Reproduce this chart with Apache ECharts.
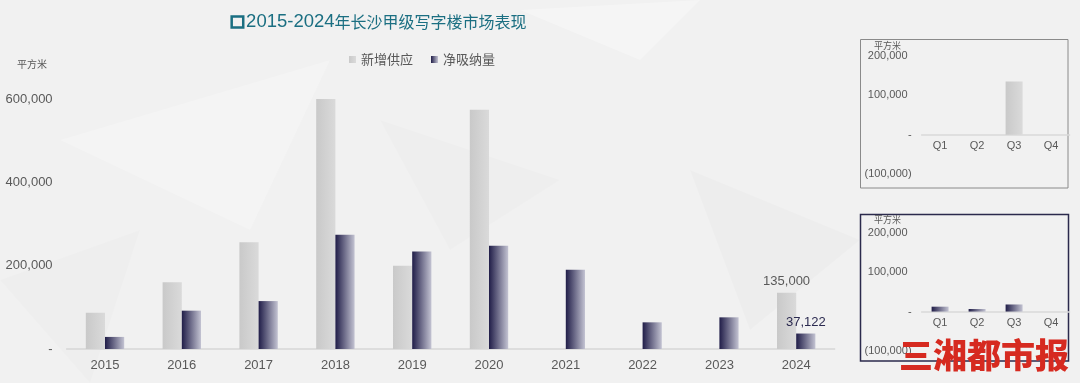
<!DOCTYPE html>
<html>
<head>
<meta charset="utf-8">
<script src="https://cdn.jsdelivr.net/npm/echarts@6/dist/echarts.min.js"></script>
<style>html,body{margin:0;padding:0;background:#f1f1f1}#c{width:1080px;height:383px}</style>
</head>
<body>
<div id="c"></div>
<script>
// ---- data ----
const years = ['2015','2016','2017','2018','2019','2020','2021','2022','2023','2024'];
const supply = [87000,160000,256000,600000,200000,574000,null,null,null,135000];
const absorption = [29000,92000,115000,274000,234000,248000,190000,64000,76000,37122];
const quarters = ['Q1','Q2','Q3','Q4'];
const supplyQ2024 = [null,null,135000,null];
const absorptionQ2024 = [12500,6500,18122,null];
const seriesNames = ['新增供应','净吸纳量'];
const mainTicks = {min:0,max:600000,interval:200000};
const insetTicks = {min:-100000,max:200000,interval:100000};
const titleYears = '2015-2024';
const titleRest = '年长沙甲级写字楼市场表现';
const unitText = '平方米';
const logoText = '三湘都市报';

const FONT = '"Liberation Sans", Arial, "Noto Sans CJK SC", sans-serif';
const CJK = '"Noto Sans CJK SC", "Liberation Sans", sans-serif';
const grayGrad = {type:'linear',x:0,y:0,x2:1,y2:0,colorStops:[{offset:0,color:'#c9c9c9'},{offset:1,color:'#dadada'}]};
const navyGrad = {type:'linear',x:0,y:0,x2:1,y2:0,colorStops:[{offset:0,color:'#201d48'},{offset:1,color:'#c3c3d2'}]};
const TEAL = '#1b6f82';

function fmt(v){
  if (v === 0) return '-';
  const s = Math.abs(v).toLocaleString('en-US');
  return v < 0 ? '(' + s + ')' : '{p|' + s + '}';
}

const lastLabel = (arr, color) => arr.map((v,i)=> i===arr.length-1 ? {value:v,label:{show:true,position:'top',distance:5,color:color,fontSize:13,fontFamily:FONT,formatter:p=>p.value.toLocaleString('en-US')}} : v);

const insetX = (grid, off) => ({type:'category',gridIndex:grid,data:quarters,offset:off,axisTick:{show:false},
  axisLine:{onZero:false,lineStyle:{color:'#d9d9d9',width:1.5}},
  axisLabel:{color:'#595959',fontSize:11,fontFamily:FONT,margin:6}});
const insetY = (grid) => ({type:'value',gridIndex:grid,min:insetTicks.min,max:insetTicks.max,interval:insetTicks.interval,splitLine:{show:false},axisLine:{show:false},axisTick:{show:false},
  axisLabel:{color:'#595959',fontSize:11,fontFamily:FONT,margin:10,formatter:fmt,rich:{p:{fontSize:11,color:'#595959',fontFamily:FONT,padding:[0,4,0,0]}}}});

const chart = echarts.init(document.getElementById('c'));
chart.setOption({
  backgroundColor:'#f1f1f1',
  animation:false,
  title:{
    text:'{b|□}{d|'+titleYears+'}{c|'+titleRest+'}',
    left:225, top:8,
    textStyle:{fontSize:18,color:TEAL,fontWeight:'normal',fontFamily:FONT,
      rich:{
        b:{fontSize:16,color:TEAL,fontWeight:'bold',fontFamily:'DejaVu Sans',textBorderColor:TEAL,textBorderWidth:1.6,padding:[0,1,0,0]},
        d:{fontSize:18.5,color:TEAL,fontFamily:FONT},
        c:{fontSize:16,color:TEAL,fontFamily:CJK}
      }}
  },
  legend:{
    data:seriesNames, left:344, top:48, itemWidth:7, itemHeight:7, itemGap:18, icon:'rect',
    textStyle:{color:'#595959',fontSize:13,fontFamily:CJK}
  },
  grid:[
    {left:66.6, right:245.4, top:99, bottom:34},
    {left:921.6, right:10.4, top:56, bottom:209},
    {left:921.6, right:10.4, top:233.3, bottom:32.3}
  ],
  xAxis:[
    {type:'category',gridIndex:0,data:years,axisTick:{show:false},axisLine:{lineStyle:{color:'#d6d6d6',width:1.5}},
     axisLabel:{color:'#595959',fontSize:13,fontFamily:FONT,margin:10}},
    insetX(1,-39.3),
    insetX(2,-39.3)
  ],
  yAxis:[
    {type:'value',gridIndex:0,min:mainTicks.min,max:mainTicks.max,interval:mainTicks.interval,splitLine:{show:false},axisLine:{show:false},axisTick:{show:false},
     axisLabel:{color:'#595959',fontSize:13,fontFamily:FONT,margin:14,formatter:fmt,rich:{p:{fontSize:13,color:'#595959',fontFamily:FONT}}}},
    insetY(1),
    insetY(2)
  ],
  series:[
    {name:seriesNames[0],type:'bar',xAxisIndex:0,yAxisIndex:0,barWidth:19.2,barGap:'0%',data:lastLabel(supply,'#595959'),itemStyle:{color:grayGrad}},
    {name:seriesNames[1],type:'bar',xAxisIndex:0,yAxisIndex:0,barWidth:19.2,barGap:'0%',data:lastLabel(absorption,'#2b2a50'),itemStyle:{color:navyGrad}},
    {name:seriesNames[0],type:'bar',xAxisIndex:1,yAxisIndex:1,barWidth:17,data:supplyQ2024,itemStyle:{color:grayGrad}},
    {name:seriesNames[1],type:'bar',xAxisIndex:2,yAxisIndex:2,barWidth:17,data:absorptionQ2024,itemStyle:{color:navyGrad}}
  ],
  graphic:[
    {type:'polygon',z:-10,silent:true,shape:{points:[[60,140],[330,60],[250,230]]},style:{fill:'rgba(255,255,255,0.22)'}},
    {type:'polygon',z:-10,silent:true,shape:{points:[[380,120],[560,180],[450,250]]},style:{fill:'rgba(0,0,0,0.012)'}},
    {type:'polygon',z:-10,silent:true,shape:{points:[[690,170],[860,240],[750,330]]},style:{fill:'rgba(0,0,0,0.015)'}},
    {type:'polygon',z:-10,silent:true,shape:{points:[[520,10],[700,0],[640,60]]},style:{fill:'rgba(255,255,255,0.3)'}},
    {type:'polygon',z:-10,silent:true,shape:{points:[[0,280],[140,230],[90,383]]},style:{fill:'rgba(0,0,0,0.012)'}},
    {type:'rect',silent:true,shape:{x:860.5,y:39.5,width:207.5,height:148.5},style:{fill:'none',stroke:'#8a8a8a',lineWidth:1}},
    {type:'rect',silent:true,shape:{x:860.5,y:214.5,width:208,height:146.5},style:{fill:'none',stroke:'#2b2a4c',lineWidth:1.5}},
    {type:'text',silent:true,left:17,top:59,style:{text:unitText,fill:'#595959',font:'10px '+CJK}},
    {type:'text',silent:true,left:874,top:41,style:{text:unitText,fill:'#595959',font:'9px '+CJK}},
    {type:'text',silent:true,left:874,top:215,style:{text:unitText,fill:'#595959',font:'9px '+CJK}},
    {type:'text',silent:true,z:100,left:899,top:338,style:{text:logoText,fill:'#d62a20',font:'900 34px '+CJK}}
  ]
});
</script>
</body>
</html>
